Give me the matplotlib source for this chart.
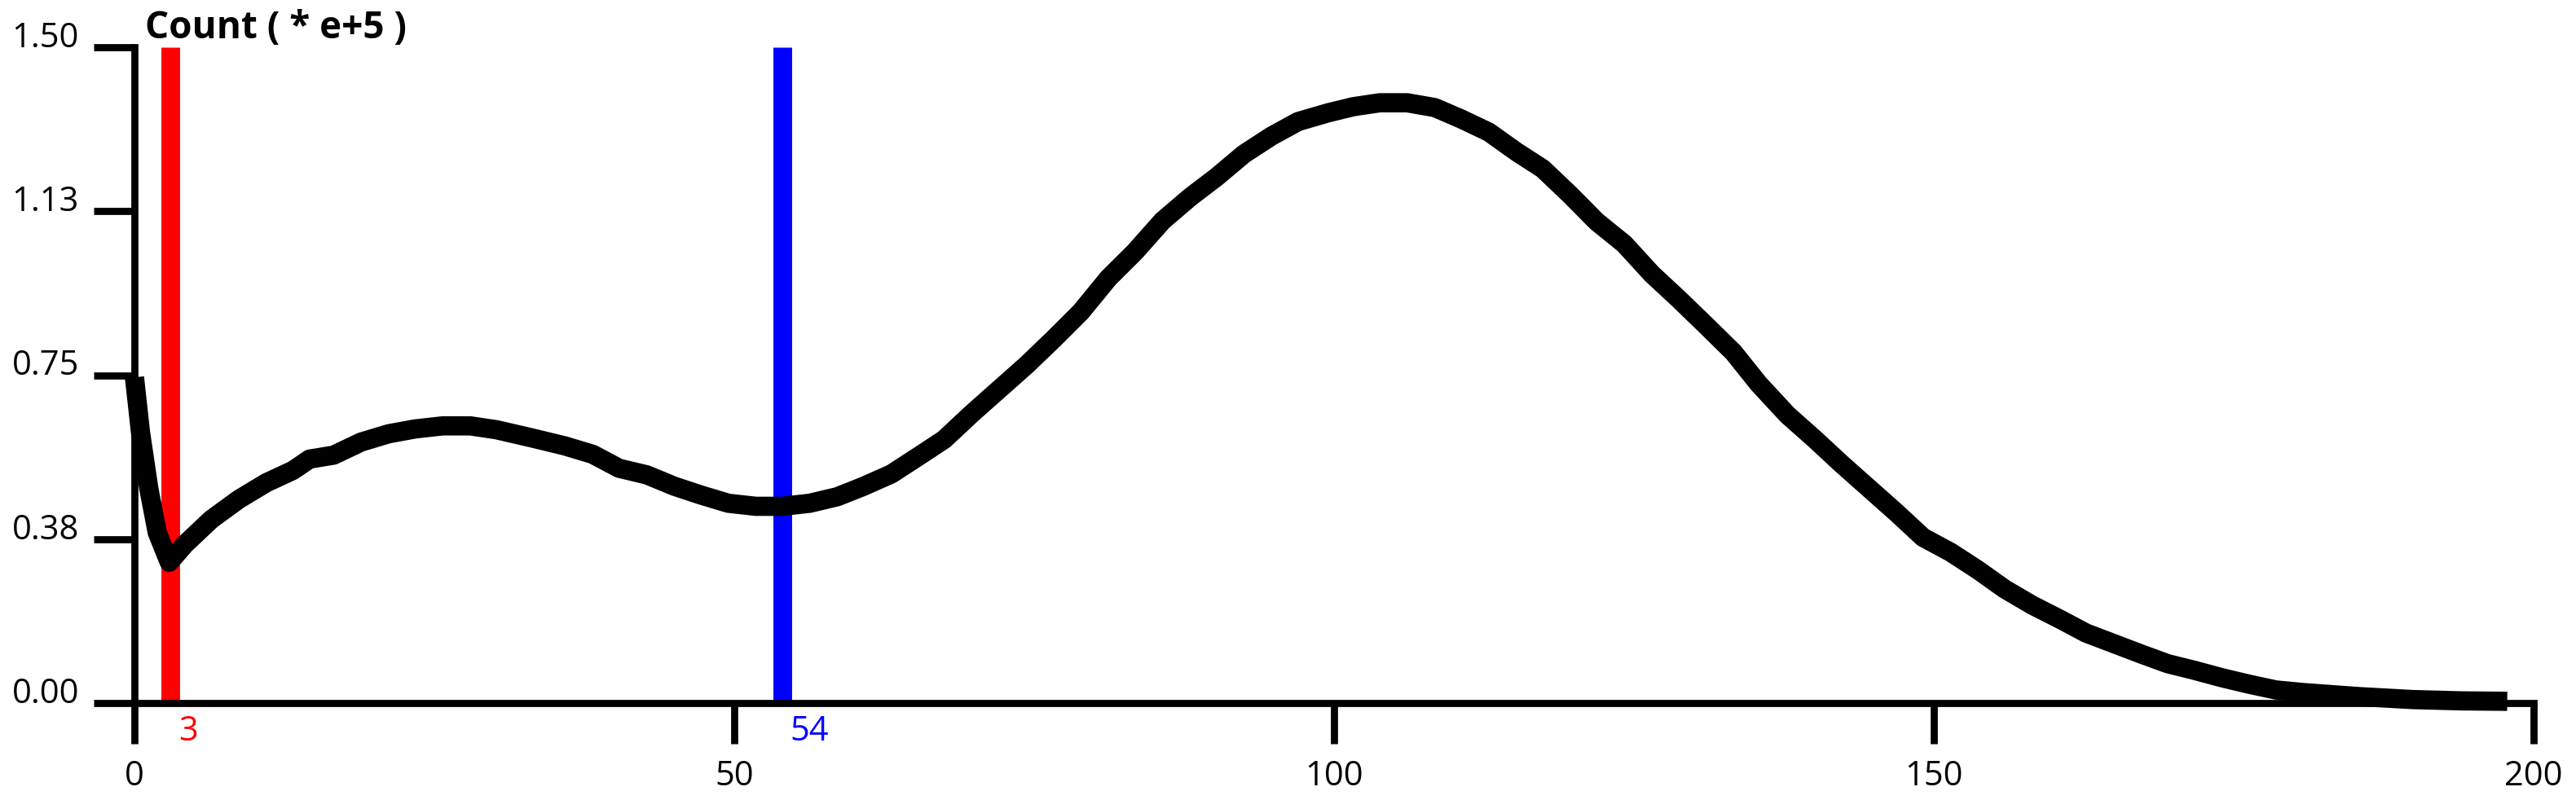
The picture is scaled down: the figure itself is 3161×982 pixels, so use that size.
import matplotlib
matplotlib.use("Agg")
from matplotlib import pyplot as plt

plt.rcParams["font.family"] = ["Open Sans", "DejaVu Sans"]

# curve values (x in bins, y in units of 1e5)
bins = [0, 0.5, 1.2, 1.9, 2.9, 4.2, 6.4, 8.7, 11, 13.2, 14.6, 16.6, 18.9, 21.2,
        23.4, 25.7, 28, 30.2, 33.2, 35.9, 38.2, 40.4, 42.7, 45, 47.2, 49.5,
        51.8, 54, 56.3, 58.6, 60.8, 63.1, 65.4, 67.5, 69.8, 72.1, 74.4, 76.6,
        78.9, 81.2, 83.4, 85.7, 88, 90.2, 92.5, 94.8, 97, 99.5, 101.6, 103.8,
        106.1, 108.4, 110.6, 112.9, 115.2, 117.4, 119.7, 121.9, 124.2, 126.5,
        128.7, 131, 133.3, 135.4, 137.8, 140.1, 142.3, 144.6, 146.9, 149.1,
        151.4, 153.7, 155.9, 158.2, 160.5, 162.7, 165, 167.3, 169.5, 171.7,
        174, 176.3, 178.5, 180.8, 185.3, 189.9, 194, 197.8]
counts = [0.745, 0.62, 0.49, 0.39, 0.322, 0.363, 0.42, 0.466, 0.504, 0.532,
          0.558, 0.567, 0.597, 0.616, 0.627, 0.634, 0.634, 0.625, 0.606, 0.588,
          0.569, 0.537, 0.522, 0.496, 0.476, 0.457, 0.45, 0.45, 0.457, 0.472,
          0.496, 0.524, 0.565, 0.603, 0.662, 0.718, 0.774, 0.832, 0.895, 0.972,
          1.032, 1.103, 1.157, 1.203, 1.256, 1.297, 1.33, 1.35, 1.364, 1.373,
          1.373, 1.362, 1.336, 1.306, 1.261, 1.222, 1.162, 1.101, 1.05, 0.981,
          0.925, 0.864, 0.802, 0.73, 0.659, 0.603, 0.547, 0.491, 0.435, 0.379,
          0.345, 0.304, 0.261, 0.224, 0.192, 0.16, 0.136, 0.112, 0.09, 0.075,
          0.058, 0.043, 0.03, 0.024, 0.015, 0.008, 0.005, 0.004]

# threshold markers
markers = [3, 54]
marker_colors = ["#ff0000", "#0000ff"]

x_ticks = [0, 50, 100, 150, 200]
x_tick_labels = ["0", "50", "100", "150", "200"]
y_ticks = [0, 0.375, 0.75, 1.125, 1.5]
y_tick_labels = ["0.00", "0.38", "0.75", "1.13", "1.50"]

fig = plt.figure(figsize=(31.61, 9.82), dpi=100)
ax = fig.add_axes([165 / 3161, 119 / 982, (3109 - 165) / 3161, (863 - 58) / 982])

for m, c in zip(markers, marker_colors):
    ax.axvline(m, color=c, lw=16.5, solid_capstyle="butt", zorder=1)
    ax.annotate(str(m), xy=(m, 0), xycoords="data", xytext=(7, -10),
                textcoords="offset points", ha="left", va="top",
                color=c, fontsize=30)

ax.plot(bins, counts, color="black", lw=17, solid_joinstyle="round",
        solid_capstyle="butt", zorder=3, clip_on=False)

ax.set_xlim(0, 200)
ax.set_ylim(0, 1.5)
ax.set_xticks(x_ticks)
ax.set_xticklabels(x_tick_labels)
ax.set_yticks(y_ticks)
ax.set_yticklabels(y_tick_labels)

for side in ["top", "right"]:
    ax.spines[side].set_visible(False)
for side in ["left", "bottom"]:
    ax.spines[side].set_linewidth(6.3)
    ax.spines[side].set_zorder(4)

ax.tick_params(axis="both", direction="out", length=36, width=6.3,
               labelsize=30, color="black")
ax.tick_params(axis="x", pad=14)
ax.tick_params(axis="y", pad=13)
for lab in ax.get_yticklabels():
    lab.set_va("baseline")

ax.annotate("Count ( * e+5 )", xy=(0, 1), xycoords="axes fraction",
            xytext=(9.5, 8), textcoords="offset points", ha="left",
            va="baseline", fontsize=33, fontweight="bold")

plt.savefig("out.png", dpi=100)
